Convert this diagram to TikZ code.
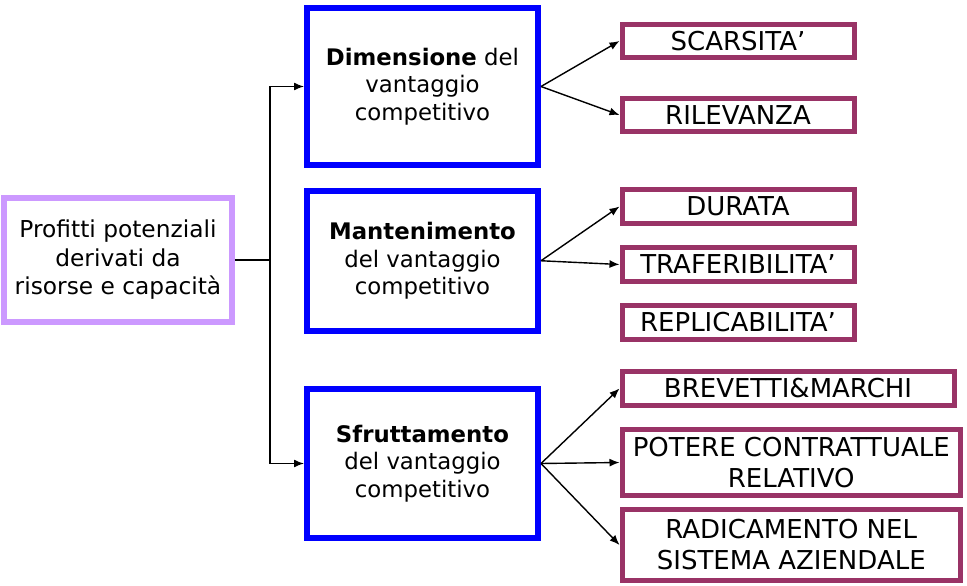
\documentclass[tikz,border=0pt]{standalone}
\usepackage{fontspec}
\setmainfont{DejaVu Sans}
\usepackage{tikz}
\usetikzlibrary{shapes.geometric, arrows.meta}
\definecolor{sourcelilac}{RGB}{204,153,255}
\definecolor{boxblue}{RGB}{0,0,255}
\definecolor{factorred}{RGB}{153,51,102}
\tikzstyle{source} = [
    rectangle,
    minimum width=227.5pt,
    minimum height=124pt,
    line width=6pt,
    align=center,
    font=\fontsize{23.3}{28.5}\selectfont,
    draw=sourcelilac
]
\tikzstyle{dimension} = [
    rectangle,
    minimum width=231pt,
    line width=6pt,
    align=center,
    font=\fontsize{22.8}{27.5}\selectfont,
    draw=boxblue
]
\tikzstyle{factor} = [
    rectangle,
    minimum width=232pt,
    minimum height=33.5pt,
    inner sep=1pt,
    line width=5pt,
    align=center,
    font=\fontsize{26}{31}\selectfont,
    draw=factorred
]
\tikzstyle{arrow} = [line width=1.4pt,-{Latex[length=10pt,width=8pt]}]

\begin{document}
\begin{tikzpicture}[x=1pt, y=-1pt]

\useasboundingbox (0,0) rectangle (967,586);

\node (profitti) [source] at (118,260)
{Profitti potenziali\\derivati da\\risorse e capacità};

\node (dimensione) [dimension, minimum height=157pt] at (422.5,86.5)
{\textbf{Dimensione} del\\vantaggio\\competitivo};

\node (mantenimento) [dimension, minimum height=140.5pt, below of=dimensione, node distance=174.25pt]
{\textbf{Mantenimento}\\del vantaggio\\competitivo};

\node (sfruttamento) [dimension, minimum height=149pt, below of=mantenimento, node distance=202.75pt]
{\textbf{Sfruttamento}\\del vantaggio\\competitivo};

\node (scarsita) [factor] at (738,41) {SCARSITA’};

\node (rilevanza) [factor, below of=scarsita, node distance=74pt]
{RILEVANZA};

\node (durata) [factor] at (738,206.5) {DURATA};

\node (trasferibilita) [factor, below of=durata, node distance=58pt]
{TRAFERIBILITA’};

\node (replicabilita) [factor, below of=trasferibilita, node distance=58pt]
{REPLICABILITA’};

\node (brevetti) [factor, minimum width=332pt, minimum height=34pt] at (788,388.5)
{BREVETTI\&MARCHI};

\node (potere) [factor, minimum width=338.5pt, minimum height=66pt] at (791.25,462.5)
{POTERE CONTRATTUALE\\RELATIVO};

\node (radicamento) [factor, minimum width=338.5pt, minimum height=71pt] at (791.25,545)
{RADICAMENTO NEL\\SISTEMA AZIENDALE};

\coordinate (split) at (270,260);

\draw [line width=1.4pt] (profitti) -- (split);
\draw [arrow] (split) |- (dimensione);
\draw [arrow] (split) |- (sfruttamento);
\draw [arrow] (dimensione.east) -- (scarsita.west);
\draw [arrow] (dimensione.east) -- (rilevanza.west);
\draw [arrow] (mantenimento.east) -- (durata.west);
\draw [arrow] (mantenimento.east) -- (trasferibilita.west);
\draw [arrow] (sfruttamento.east) -- (brevetti.west);
\draw [arrow] (sfruttamento.east) -- (potere.west);
\draw [arrow] (sfruttamento.east) -- (radicamento.west);

\end{tikzpicture}
\end{document}
